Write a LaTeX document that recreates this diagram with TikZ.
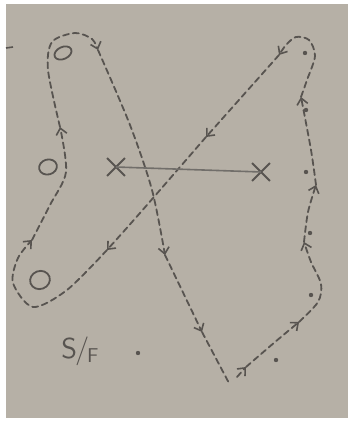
\documentclass[tikz,border=0pt]{standalone}
\usepackage{tikz}
\usetikzlibrary{arrows.meta,shapes.geometric,shapes.misc}
\definecolor{paper}{RGB}{182,176,166}
\definecolor{pencil}{RGB}{88,84,80}

\begin{document}
\begin{tikzpicture}[x=0.5pt, y=-0.5pt, every node/.style={font=\sffamily},
	route/.style={pencil, line width=0.9pt, dash pattern=on 3pt off 2pt, line cap=round,
		-{Straight Barb[length=1.1mm, width=1.9mm, line width=0.8pt]}},
	lastleg/.style={pencil, line width=0.9pt, dash pattern=on 3pt off 2pt, line cap=round},
	spot/.style={draw=pencil, ellipse, line width=0.9pt, inner sep=0pt},
	crossmark/.style={draw=pencil, cross out, line width=0.9pt, minimum size=8pt, inner sep=0pt},
	pip/.style={circle, fill=pencil, inner sep=0pt, minimum size=2.2pt}]
	\fill[white] (0,0) rectangle (348,421);
	\useasboundingbox (0,0) rectangle (348,421);
	\fill[paper] (6,4) rectangle (348,418);
	% route points
	\coordinate (s) at (237,377);
	\coordinate (a1) at (246,367);
	\coordinate (a2) at (299,322);
	\coordinate (a3) at (304,242);
	\coordinate (a4) at (316,185);
	\coordinate (a5) at (301,97);
	\coordinate (a6) at (279,55);
	\coordinate (a7) at (206,137);
	\coordinate (a8) at (107,250);
	\coordinate (a9) at (32,240);
	\coordinate (a10) at (60,127);
	\coordinate (a11) at (98,50);
	\coordinate (a12) at (165,255);
	\coordinate (a13) at (202,332);
	\coordinate (e) at (230,385);
	\draw[route] (s) -- (a1);
	\draw[route] plot[smooth] coordinates {(a1) (275,342) (a2)};
	\draw[route] plot[smooth] coordinates {(a2) (318,302) (321,284) (311,262) (a3)};
	\draw[route] plot[smooth] coordinates {(a3) (308,212) (a4)};
	\draw[route] plot[smooth] coordinates {(a4) (311,150) (a5)};
	\draw[route] plot[smooth] coordinates {(a5) (307,80) (315,56) (309,40) (296,37) (286,45) (a6)};
	\draw[route] (a6) -- (a7);
	\draw[route] plot[smooth] coordinates {(a7) (140,213) (a8)};
	\draw[route] plot[smooth] coordinates {(a8) (67,290) (33,307) (13,283) (18,258) (a9)};
	\draw[route] plot[smooth] coordinates {(a9) (50,205) (66,172) (a10)};
	\draw[route] plot[smooth] coordinates {(a10) (48,70) (52,42) (75,33) (92,39) (a11)};
	\draw[route] plot[smooth] coordinates {(a11) (130,125) (152,190) (a12)};
	\draw[route] (a12) -- (a13);
	\draw[lastleg] (a13) -- (e);
	% circles
	\node[spot, minimum width=9pt, minimum height=6pt, rotate=25] (o1) at (63,53) {};
	\node[spot, minimum width=9pt, minimum height=7.5pt, rotate=15] (o2) at (48,167) {};
	\node[spot, minimum width=10pt, minimum height=9pt, rotate=20] (o3) at (40,280) {};
	% crosses
	\node[crossmark] (x1) at (116,167) {};
	\node[crossmark] (x2) at (261,172) {};
	\draw[pencil!85, line width=0.8pt] (x1.center) -- (x2.center);
	% dots
	\foreach \px/\py [count=\k] in {305/53, 306/110, 306/172, 310/233, 311/295, 276/360} {
		\node[pip] (d\k) at (\px,\py) {};
	}
	\node[pip] (sfdot) at (138,353) {};
	\node[pencil, font=\sffamily\Large] (sf) at (80,351) {S\kern-1pt/\kern-1pt\raisebox{-2pt}{\normalsize F}};
	\coordinate (t1) at (6,48);
	\coordinate (t2) at (13,47);
	\draw[pencil, line width=0.8pt] (t1) -- (t2);
\end{tikzpicture}
\end{document}
